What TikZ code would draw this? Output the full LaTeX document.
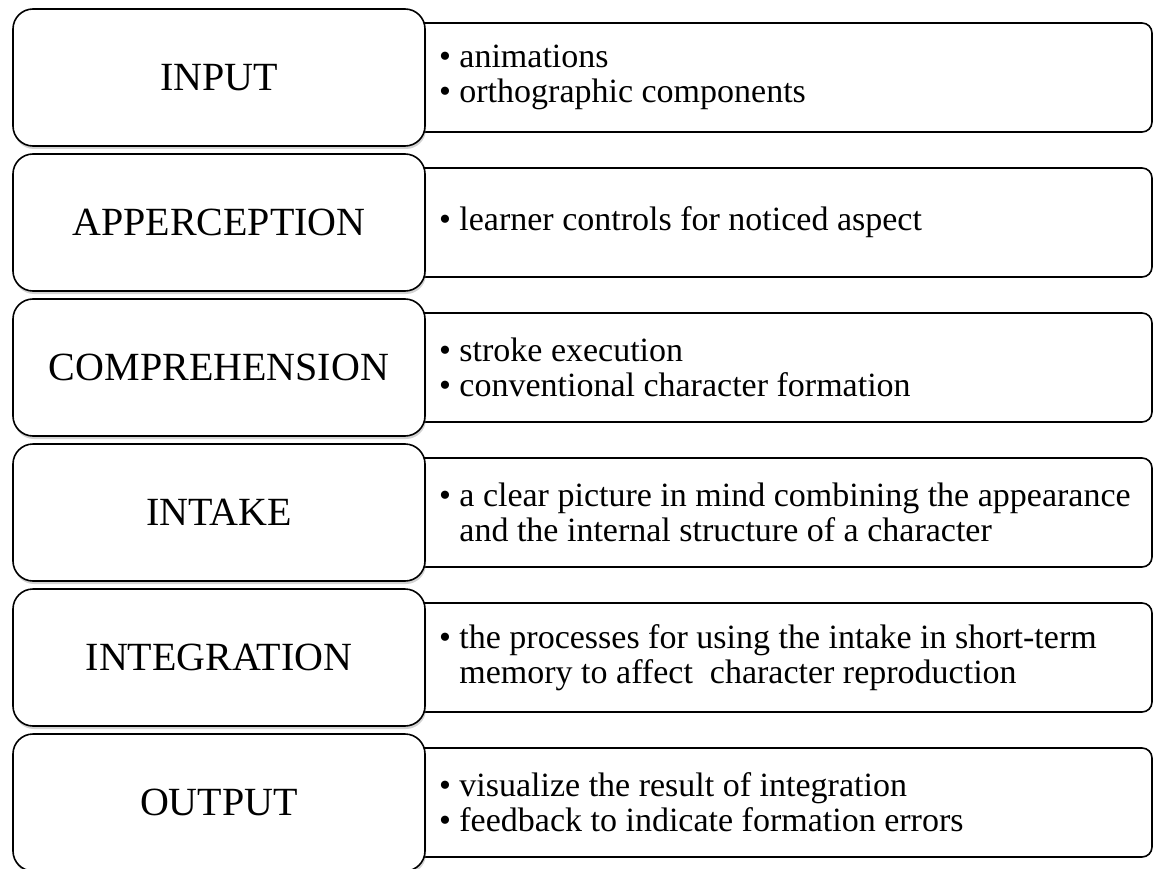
\documentclass[tikz,border=0pt]{standalone}
\usepackage{fontspec}
\setmainfont{Liberation Serif}
\usetikzlibrary{positioning, shadows}

\newcommand{\itm}{\textbullet\ }
\newcommand{\hang}{\phantom{\textbullet\ }}

\begin{document}
\begin{tikzpicture}[x=1pt,y=-1pt,
    every node/.style={inner sep=0pt,outer sep=0pt},
    stage/.style={draw,line width=1.6pt,fill=white,rounded corners=20pt,
        minimum width=412pt,minimum height=137pt,font=\fontsize{40}{44}\selectfont,
        drop shadow={shadow xshift=1pt,shadow yshift=-3pt,opacity=0.35}},
    frame/.style={draw,line width=1.6pt,fill=white,rounded corners=10pt,
        minimum width=740pt,minimum height=109pt},
    bullets/.style={align=left,font=\fontsize{34}{35}\selectfont}]
    \useasboundingbox (0,0) rectangle (1153,869);
    % one row per stage: frame behind, stage box on top
    \foreach \i/\name/\items in {
        1/INPUT/{\itm animations\\ \itm orthographic components},
        2/APPERCEPTION/{\itm learner controls for noticed aspect},
        3/COMPREHENSION/{\itm stroke execution\\ \itm conventional character formation},
        4/INTAKE/{\itm a clear picture in mind combining the appearance\\ \hang and the internal structure of a character},
        5/INTEGRATION/{\itm the processes for using the intake in short-term\\ \hang memory to affect\ \ character reproduction},
        6/OUTPUT/{\itm visualize the result of integration\\ \itm feedback to indicate formation errors}} {
        \node[frame] (frame-\i) at (782,77.5+145*\i-145) {};
        \node[bullets,right=27pt of frame-\i.west] (detail-\i) {\items};
        \node[stage] (stage-\i) at (219,77.5+145*\i-145) {\name};
    }
\end{tikzpicture}
\end{document}
